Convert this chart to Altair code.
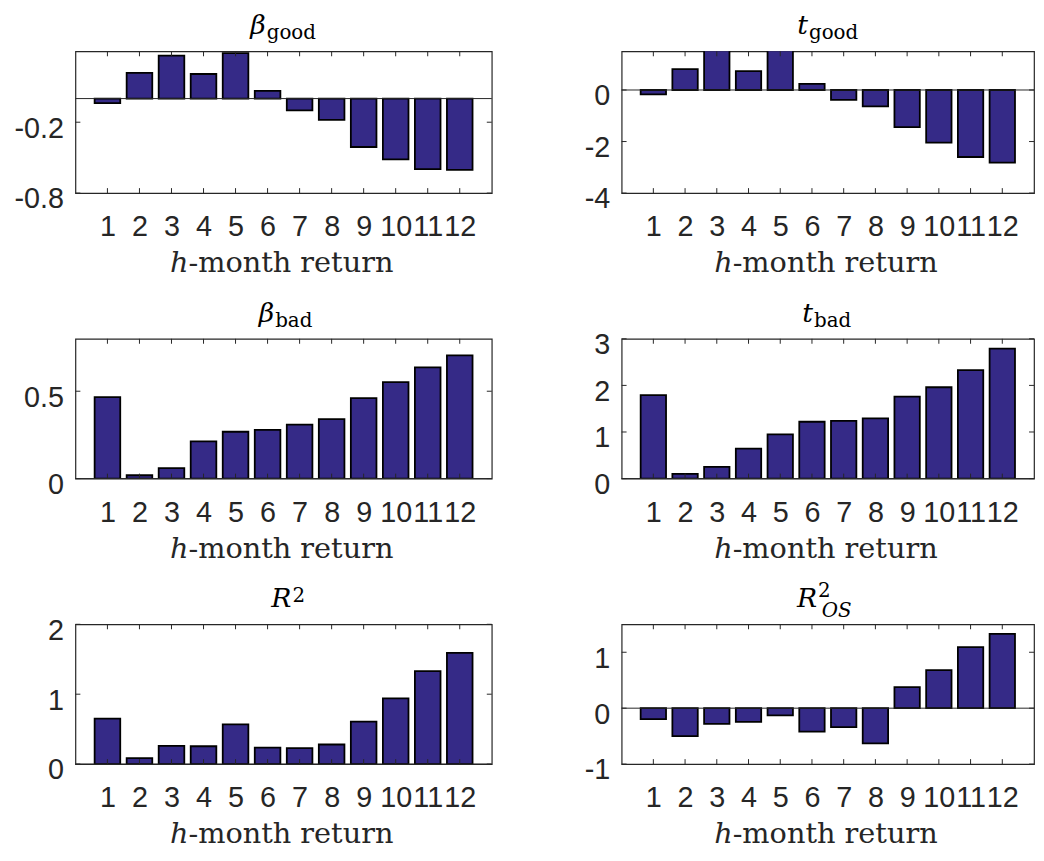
import altair as alt
import pandas as pd

months = list(range(1, 13))
beta_good = [-0.038, 0.217, 0.363, 0.208, 0.385, 0.066, -0.099, -0.18, -0.41, -0.514, -0.598, -0.603]
t_good = [-0.17, 0.81, 1.7, 0.73, 1.9, 0.24, -0.38, -0.64, -1.44, -2.04, -2.6, -2.82]
beta_bad = [0.466, 0.019, 0.06, 0.213, 0.268, 0.279, 0.309, 0.34, 0.46, 0.552, 0.636, 0.705]
t_bad = [1.79, 0.10, 0.25, 0.645, 0.95, 1.22, 1.24, 1.29, 1.76, 1.96, 2.33, 2.79]
r2 = [0.65, 0.085, 0.26, 0.255, 0.567, 0.237, 0.227, 0.28, 0.606, 0.94, 1.33, 1.59]
r2_os = [-0.196, -0.5, -0.28, -0.245, -0.13, -0.42, -0.34, -0.63, 0.375, 0.68, 1.09, 1.33]

BAR = "#352A87"
AX = "#262626"
SERIF = "DejaVu Serif"
XLAB_DY = 80


def txt(s, w, dx, dy, size, style="normal", align="left", color="black"):
    return alt.Chart(pd.DataFrame({"s": [s]})).mark_text(
        font=SERIF, fontSize=size, fontStyle=style, align=align,
        baseline="alphabetic", color=color
    ).encode(text="s:N", x=alt.value(w / 2 + dx), y=alt.value(dy))


def panel(vals, domain, yticks, w, h, title_layers):
    df = pd.DataFrame({"h": months, "v": vals})
    xs = alt.Scale(domain=[0, 13], nice=False, zero=False)
    ys = alt.Scale(domain=domain, nice=False, zero=False)
    xaxis = alt.Axis(values=months, labelExpr="'' + datum.value", ticks=False,
                     domain=False, grid=False, labelPadding=43,
                     labelBaseline="alphabetic", labelOverlap=False,
                     labelFlush=False, labelBound=False, title=None)
    yaxis = alt.Axis(values=yticks, labelExpr="'' + datum.value", ticks=False,
                     domain=False, grid=False, labelPadding=12,
                     labelBaseline="alphabetic", labelOffset=15,
                     labelOverlap=False, labelFlush=False, title=None)
    X = lambda f: alt.X(f, scale=xs, axis=xaxis)
    Y = lambda f: alt.Y(f, scale=ys, axis=yaxis)

    bars = alt.Chart(df).transform_calculate(
        x0="datum.h - 0.4", x1="datum.h + 0.4"
    ).mark_bar(fill=BAR, stroke="black", strokeWidth=1.8, clip=True).encode(
        x=X("x0:Q"), x2="x1:Q", y=Y("v:Q"), y2=alt.datum(0)
    )
    zero = alt.Chart(pd.DataFrame({"v": [0]})).mark_rule(
        color=AX, strokeWidth=1).encode(y=Y("v:Q"))
    ytdf = pd.DataFrame({"v": yticks})
    xtdf = pd.DataFrame({"h": months})
    tk = dict(color=AX, strokeWidth=1)
    yl = alt.Chart(ytdf).mark_rule(**tk).encode(y=Y("v:Q"), x=alt.value(0), x2=alt.value(5))
    yr = alt.Chart(ytdf).mark_rule(**tk).encode(y=Y("v:Q"), x=alt.value(w - 5), x2=alt.value(w))
    xb = alt.Chart(xtdf).mark_rule(**tk).encode(x=X("h:Q"), y=alt.value(h), y2=alt.value(h - 5))
    xt = alt.Chart(xtdf).mark_rule(**tk).encode(x=X("h:Q"), y=alt.value(0), y2=alt.value(5))
    xl1 = txt("h", w, -96, h + XLAB_DY, 29, "italic", "right", AX)
    xl2 = txt("-month return", w, -96, h + XLAB_DY, 29, "normal", "left", AX)
    return alt.layer(bars, zero, yl, yr, xb, xt, xl1, xl2, *title_layers).properties(
        width=w, height=h)


WL, WR = 420, 416
MT = 27   # title symbol size
ST = 20   # sub/superscript size
p1 = panel(beta_good, [-0.8, 0.4], [-0.8, -0.2], WL, 143,
           [txt("β", WL, -18, -17, MT, "italic", "right"),
            txt("good", WL, -17, -12, ST)])
p2 = panel(t_good, [-4, 1.5], [-4, -2, 0], WR, 143,
           [txt("t", WR, -20, -17, MT, "italic", "right"),
            txt("good", WR, -19, -12, ST)])
p3 = panel(beta_bad, [0, 0.8], [0, 0.5], WL, 141,
           [txt("β", WL, -9.5, -17, MT, "italic", "right"),
            txt("bad", WL, -8.5, -12, ST)])
p4 = panel(t_bad, [0, 3], [0, 1, 2, 3], WR, 141,
           [txt("t", WR, -15, -17, MT, "italic", "right"),
            txt("bad", WR, -14, -12, ST)])
p5 = panel(r2, [0, 2], [0, 1, 2], WL, 141,
           [txt("R", WL, 8, -17, MT, "italic", "right"),
            txt("2", WL, 9, -22, ST)])
p6 = panel(r2_os, [-1, 1.5], [-1, 0, 1], WR, 141,
           [txt("R", WR, -10.7, -17, MT, "italic", "right"),
            txt("2", WR, -10, -28, ST),
            txt("OS", WR, -6, -7, ST, "italic")])

chart = alt.concat(
    p1, p2, p3, p4, p5, p6, columns=2,
    spacing={"row": 147, "column": 131}, bounds="flush", align="each"
).properties(
    padding={"left": 5, "top": 0, "right": 0, "bottom": 0}
).configure_view(stroke=AX, strokeWidth=1.2).configure_axis(
    labelFont="Liberation Sans", labelFontSize=29, labelColor=AX
)

chart.save("out.html", embed_options={"renderer": "svg", "actions": False})
